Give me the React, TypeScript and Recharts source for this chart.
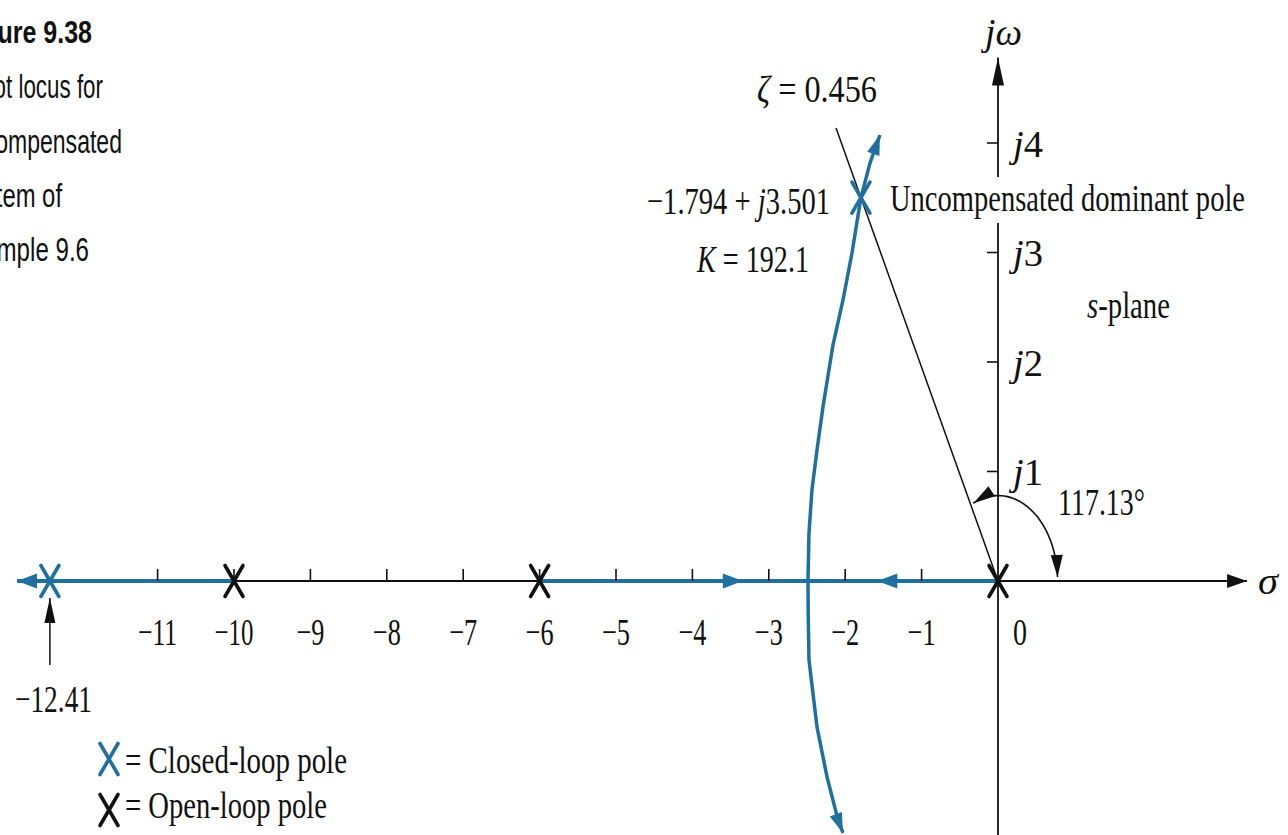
import React from "react";
import { ComposedChart, Line, Scatter, XAxis, YAxis } from "recharts";

const W = 1288;
const H = 835;

// s-plane window (sigma horizontally, omega vertically)
const X_MIN = -13.063;
const X_MAX = 3.796;
const Y_MIN = -2.32;
const Y_MAX = 5.306;
const SX = W / (X_MAX - X_MIN);
const SY = H / (Y_MAX - Y_MIN);

const BLUE = "#1f6f9f";
const INK = "#111";
const SERIF = "'Liberation Serif', 'Times New Roman', serif";
const SANS = "'Liberation Sans Narrow', 'Liberation Sans', Arial, sans-serif";

const sigmaTicks = [-11, -10, -9, -8, -7, -6, -5, -4, -3, -2, -1];
const sigmaTickLabels = ["−11", "−10", "−9", "−8", "−7", "−6", "−5", "−4", "−3", "−2", "−1"];
const omegaTicks = [1, 2, 3, 4];

const openLoopPoles = [0, -6, -10];
const closedLoopPoles = [
  { x: -12.41, y: 0 },
  { x: -1.794, y: 3.501 },
];

const ZETA = 0.456;
const ZETA_ANGLE = 117.13;

// complex branch, breakaway point up to the upper end
const upperBranch = [
  { x: -2.487, y: 0 },
  { x: -2.474, y: 0.438 },
  { x: -2.435, y: 0.831 },
  { x: -2.369, y: 1.196 },
  { x: -2.291, y: 1.589 },
  { x: -2.16, y: 2.155 },
  { x: -2.029, y: 2.566 },
  { x: -1.911, y: 2.995 },
  { x: -1.794, y: 3.501 },
  { x: -1.675, y: 3.817 },
  { x: -1.545, y: 4.073 },
];

// mirror branch, breakaway point down to the lower end
const lowerBranch = [
  { x: -2.487, y: 0 },
  { x: -2.484, y: -0.3 },
  { x: -2.474, y: -0.721 },
  { x: -2.369, y: -1.333 },
  { x: -2.238, y: -1.79 },
  { x: -2.094, y: -2.183 },
  { x: -2.029, y: -2.301 },
];

// real-axis locus segments
const realLocusLeft = [
  { x: -12.84, y: 0 },
  { x: -10, y: 0 },
];
const realLocusMid = [
  { x: -6, y: 0 },
  { x: -2.487, y: 0 },
];
const realLocusRight = [
  { x: 0, y: 0 },
  { x: -2.487, y: 0 },
];

const sigmaAxis = [
  { x: -12.84, y: 0 },
  { x: 3.26, y: 0 },
];
const omegaAxisLow = [
  { x: 0, y: Y_MIN },
  { x: 0, y: 3.27 },
];
const omegaAxisHigh = [
  { x: 0, y: 3.69 },
  { x: 0, y: 4.78 },
];
const zetaLine = [
  { x: 0, y: 0 },
  { x: -2.12, y: 4.137 },
];
const poleMarkerLine = [
  { x: -12.41, y: -0.767 },
  { x: -12.41, y: -0.155 },
];

// angle marker between the positive real axis and the zeta line
const ARC_R = 0.78;
const ARC_FROM = 2.7;
const ARC_TO = 114.5;
const arcPoints: { x: number; y: number }[] = [];
for (let i = 0; i <= 40; i++) {
  const t = ((ARC_FROM + ((ARC_TO - ARC_FROM) * i) / 40) * Math.PI) / 180;
  arcPoints.push({ x: ARC_R * Math.cos(t), y: ARC_R * Math.sin(t) });
}
const rad = (d: number) => (d * Math.PI) / 180;

const arrowHeads = [
  { x: -12.84, y: 0, dx: -1, dy: 0, color: BLUE, len: 20, hw: 7.5 },
  { x: -3.34, y: 0, dx: 1, dy: 0, color: BLUE, len: 20, hw: 7.5 },
  { x: -1.58, y: 0, dx: -1, dy: 0, color: BLUE, len: 20, hw: 7.5 },
  { x: -1.545, y: 4.073, dx: 0.13, dy: 0.256, color: BLUE, len: 20, hw: 6.5 },
  { x: -2.029, y: -2.301, dx: 0.065, dy: -0.118, color: BLUE, len: 20, hw: 6.5 },
  { x: 3.26, y: 0, dx: 1, dy: 0, color: INK, len: 20, hw: 7 },
  { x: 0, y: 4.78, dx: 0, dy: 1, color: INK, len: 28, hw: 6 },
  { x: -12.41, y: -0.155, dx: 0, dy: 1, color: INK, len: 25, hw: 5.5 },
  {
    x: ARC_R * Math.cos(rad(ARC_FROM)),
    y: ARC_R * Math.sin(rad(ARC_FROM)),
    dx: Math.sin(rad(ARC_FROM)),
    dy: -Math.cos(rad(ARC_FROM)),
    color: INK,
    len: 22,
    hw: 6,
  },
  {
    x: ARC_R * Math.cos(rad(ARC_TO)),
    y: ARC_R * Math.sin(rad(ARC_TO)),
    dx: -Math.sin(rad(ARC_TO)),
    dy: Math.cos(rad(ARC_TO)),
    color: INK,
    len: 22,
    hw: 6,
  },
];

function ArrowHead(props: any) {
  const { cx, cy, payload } = props;
  if (cx == null || cy == null) return null;
  const a = Math.atan2(-payload.dy * SY, payload.dx * SX);
  const ux = Math.cos(a);
  const uy = Math.sin(a);
  const bx = cx - ux * payload.len;
  const by = cy - uy * payload.len;
  const pts = [
    [cx, cy],
    [bx - uy * payload.hw, by + ux * payload.hw],
    [bx + uy * payload.hw, by - ux * payload.hw],
  ]
    .map((p) => p.join(","))
    .join(" ");
  return <polygon points={pts} fill={payload.color} />;
}

function Cross({ cx, cy, color, w = 18, h = 31 }: any) {
  return (
    <g stroke={color} strokeWidth={3.6} strokeLinecap="round">
      <line x1={cx - w / 2} y1={cy - h / 2} x2={cx + w / 2} y2={cy + h / 2} />
      <line x1={cx + w / 2} y1={cy - h / 2} x2={cx - w / 2} y2={cy + h / 2} />
    </g>
  );
}

function Label({ x, y, w, size = 38, anchor = "start", family = SERIF, bold, children }: any) {
  return (
    <text
      x={x}
      y={y}
      fontSize={size}
      fontFamily={family}
      fontWeight={bold ? 700 : 400}
      textAnchor={anchor}
      textLength={w}
      lengthAdjust="spacingAndGlyphs"
      fill={INK}
    >
      {children}
    </text>
  );
}

function SigmaTick(props: any) {
  const { cx, cy, payload } = props;
  const w = payload.label.length > 2 ? 39 : 28;
  return (
    <g>
      <line x1={cx} y1={cy - 12} x2={cx} y2={cy} stroke={INK} strokeWidth={1.6} />
      <Label x={cx - w / 2} y={cy + 64} w={w}>
        {payload.label}
      </Label>
    </g>
  );
}

function OmegaTick(props: any) {
  const { cx, cy, payload } = props;
  return (
    <g>
      <line x1={cx - 11} y1={cy} x2={cx} y2={cy} stroke={INK} strokeWidth={1.6} />
      <Label x={cx + 15} y={cy + 14} w={30}>
        <tspan fontStyle="italic">j</tspan>
        {payload.y}
      </Label>
    </g>
  );
}

function PathLine({ data, color, width }: any) {
  return (
    <Line
      data={data}
      dataKey="y"
      type="linear"
      stroke={color}
      strokeWidth={width}
      dot={false}
      activeDot={false}
      isAnimationActive={false}
      legendType="none"
    />
  );
}

export default function App() {
  const sigmaTickData = sigmaTicks.map((v, i) => ({ x: v, y: 0, label: sigmaTickLabels[i] }));
  const omegaTickData = omegaTicks.map((v) => ({ x: 0, y: v }));
  const openData = openLoopPoles.map((v) => ({ x: v, y: 0 }));

  return (
    <div style={{ position: "absolute", left: 0, top: 0, width: W, height: H, background: "#fff" }}>
      <ComposedChart width={W} height={H} margin={{ top: 0, right: 0, bottom: 0, left: 0 }}>
        <XAxis type="number" dataKey="x" domain={[X_MIN, X_MAX]} allowDataOverflow hide />
        <YAxis type="number" dataKey="y" domain={[Y_MIN, Y_MAX]} allowDataOverflow hide />

        {PathLine({ data: sigmaAxis, color: INK, width: 2 })}
        {PathLine({ data: omegaAxisLow, color: INK, width: 1.8 })}
        {PathLine({ data: omegaAxisHigh, color: INK, width: 1.8 })}
        {PathLine({ data: zetaLine, color: INK, width: 1.5 })}
        {PathLine({ data: poleMarkerLine, color: INK, width: 1.5 })}
        {PathLine({ data: arcPoints, color: INK, width: 1.6 })}

        {PathLine({ data: realLocusLeft, color: BLUE, width: 4 })}
        {PathLine({ data: realLocusMid, color: BLUE, width: 4 })}
        {PathLine({ data: realLocusRight, color: BLUE, width: 4 })}
        {PathLine({ data: upperBranch, color: BLUE, width: 3.5 })}
        {PathLine({ data: lowerBranch, color: BLUE, width: 3.5 })}

        <Scatter data={sigmaTickData} dataKey="y" isAnimationActive={false} shape={SigmaTick} />
        <Scatter data={omegaTickData} dataKey="y" isAnimationActive={false} shape={OmegaTick} />
        <Scatter data={arrowHeads} dataKey="y" isAnimationActive={false} shape={ArrowHead} />
        <Scatter
          data={openData}
          dataKey="y"
          isAnimationActive={false}
          shape={(p: any) => <Cross cx={p.cx} cy={p.cy} color={INK} />}
        />
        <Scatter
          data={closedLoopPoles}
          dataKey="y"
          isAnimationActive={false}
          shape={(p: any) => <Cross cx={p.cx} cy={p.cy} color={BLUE} />}
        />
      </ComposedChart>

      <svg
        width={W}
        height={H}
        style={{ position: "absolute", left: 0, top: 0, pointerEvents: "none" }}
      >
        {/* caption, partly running off the left edge */}
        <Label x={-40} y={43} w={132} size={32} family={SANS} bold>
          Figure 9.38
        </Label>
        <Label x={-35} y={98} w={138} size={33} family={SANS}>
          Root locus for
        </Label>
        <Label x={-42} y={153} w={164} size={33} family={SANS}>
          uncompensated
        </Label>
        <Label x={-40} y={207} w={102} size={33} family={SANS}>
          system of
        </Label>
        <Label x={-45} y={261} w={134} size={33} family={SANS}>
          Example 9.6
        </Label>

        <Label x={985} y={45} w={37}>
          <tspan fontStyle="italic">jω</tspan>
        </Label>
        <Label x={757} y={102} w={120}>
          <tspan fontStyle="italic">ζ</tspan> = {ZETA}
        </Label>
        <Label x={647} y={214} w={183}>
          −1.794 + <tspan fontStyle="italic">j</tspan>3.501
        </Label>
        <Label x={697} y={272} w={112}>
          <tspan fontStyle="italic">K</tspan> = 192.1
        </Label>
        <Label x={890} y={211} w={355}>
          Uncompensated dominant pole
        </Label>
        <Label x={1087} y={318} w={83}>
          <tspan fontStyle="italic">s</tspan>-plane
        </Label>
        <Label x={1058} y={515} w={87}>
          {ZETA_ANGLE}°
        </Label>
        <Label x={1013} y={645} w={14}>
          0
        </Label>
        <Label x={1258} y={594} w={20}>
          <tspan fontStyle="italic">σ</tspan>
        </Label>
        <Label x={15} y={712} w={77}>
          −12.41
        </Label>

        <Cross cx={109} cy={759} color={BLUE} />
        <Label x={125} y={773} w={222}>
          = Closed-loop pole
        </Label>
        <Cross cx={109} cy={810} color={INK} />
        <Label x={125} y={818} w={202}>
          = Open-loop pole
        </Label>
      </svg>
    </div>
  );
}
